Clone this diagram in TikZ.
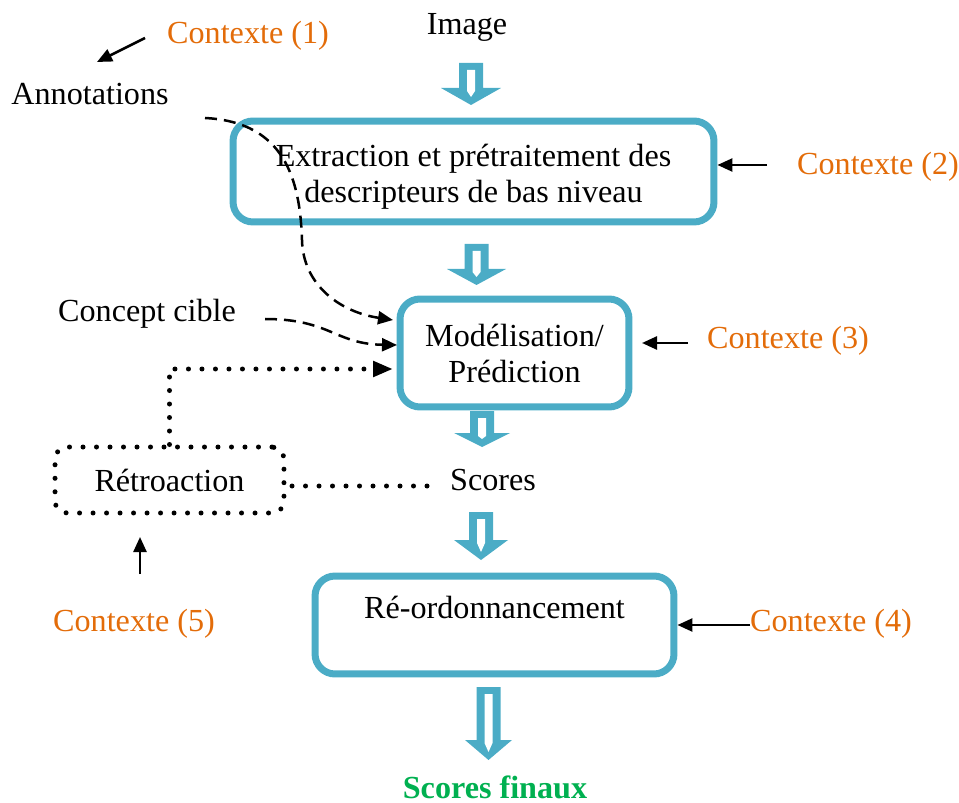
\documentclass[tikz,border=0pt]{standalone}
\usepackage{fontspec}
\setmainfont{Liberation Serif}
\usetikzlibrary{arrows.meta,positioning}
\definecolor{boxblue}{HTML}{4BACC6}
\definecolor{ctxorange}{HTML}{E36C09}
\definecolor{finalgreen}{HTML}{00B050}

% hollow block arrow pointing down: x, top, head start, tip, half head width
\newcommand{\blockdown}[5]{%
  \fill[boxblue] (#1-12,#2) -- (#1+12,#2) -- (#1+12,#3) -- (#1+#5,#3) -- (#1,#4)
    -- (#1-#5,#3) -- (#1-12,#3) -- cycle;
  \fill[white] (#1-4,#2+7) -- (#1+4,#2+7) -- (#1+4,#3+3) -- (#1,#4-8)
    -- (#1-4,#3+3) -- cycle;}

\begin{document}
\begin{tikzpicture}[
  x=0.02cm, y=-0.02cm,
  font=\fontsize{18.3}{20.5}\selectfont,
  stage/.style={draw=boxblue, line width=0.14cm, rounded corners=0.4cm, align=center, inner sep=0pt},
  lbl/.style={inner sep=0pt, anchor=base},
  ctx/.style={lbl, text=ctxorange},
  ctxarr/.style={line width=0.05cm, -{Triangle[length=0.3cm,width=0.26cm]}},
  dashline/.style={line width=0.05cm, dash pattern=on 0.24cm off 0.14cm, -{Triangle[length=0.3cm,width=0.26cm]}},
  dotline/.style={line width=0.1cm, line cap=round, dash pattern=on 0pt off 0.27cm}
]
\useasboundingbox (0,0) rectangle (959,803);

% main chain
\node[stage, minimum width=9.62cm, minimum height=2.02cm] (extract) at (473.5,171.5) {};
\node[align=center, inner sep=0pt] (extracttext) at ([yshift=-0.1cm]extract.center) {Extraction et prétraitement des\\descripteurs de bas niveau};
\node[stage, minimum width=4.58cm, minimum height=2.16cm] (model) at (514.5,353) {Modélisation/\\Prédiction};
\node[stage, minimum width=7.18cm, minimum height=1.96cm] (rerank) at (494.5,625) {Ré-ordonnancement\\\mbox{}};
\node[draw, dotline, rounded corners=0.24cm, minimum width=4.58cm, minimum height=1.32cm] (retro) at (169.5,480) {Rétroaction};

\node[lbl] (image) at (467,35) {Image};
\node[lbl] (annot) at (90,105) {Annotations};
\node[lbl] (concept) at (147,322) {Concept cible};
\node[lbl] (scores) at (493,490) {Scores};
\node[lbl, text=finalgreen, font=\fontsize{18.3}{20.5}\selectfont\bfseries] (final) at (495,798) {Scores finaux};

% contexts
\node[ctx] (ctx1) at (248,44) {Contexte (1)};
\node[ctx] (ctx2) at (878,175) {Contexte (2)};
\node[ctx] (ctx3) at (788,349) {Contexte (3)};
\node[ctx] (ctx4) at (831,631) {Contexte (4)};
\node[ctx] (ctx5) at (134,631) {Contexte (5)};

\coordinate (ctx1tail) at (145,38);
\coordinate (annottip) at (97,62);
\coordinate (ctx2tail) at (767,165);
\coordinate (ctx3tail) at (688,343);
\coordinate (ctx3tip) at (642,343);
\coordinate (ctx4tail) at (750,625);
\coordinate (ctx5tail) at (140,574);
\coordinate (ctx5tip) at (140,537);

\draw[ctxarr] (ctx1tail) -- (annottip);
\draw[ctxarr] (ctx2tail) -- (extract.east |- ctx2tail);
\draw[ctxarr] (ctx3tail) -- (ctx3tip);
\draw[ctxarr] (ctx4tail) -- (rerank.east |- ctx4tail);
\draw[ctxarr] (ctx5tail) -- (ctx5tip);

% block arrows
\blockdown{471}{63}{88}{105}{30}
\blockdown{476.5}{244}{269}{285}{29.5}
\blockdown{482}{411}{433}{447}{28}
\blockdown{481}{512}{540}{560}{27}
\blockdown{488.5}{687}{740}{760}{23.5}

% dashed inputs
\coordinate (annotstart) at (205,118);
\coordinate (annotend) at (393,320);
\coordinate (conceptstart) at (265,319);
\coordinate (conceptend) at (397,345);
\draw[dashline] (annotstart) .. controls (285,122) and (300,180) .. (302,240)
  .. controls (303,285) and (340,312) .. (annotend);
\draw[dashline] (conceptstart) .. controls (330,319) and (335,344) .. (conceptend);

% feedback loop
\coordinate (feedin) at (393,369);
\coordinate (scoresleft) at (427,486);
\draw[dotline, -{Triangle[length=0.4cm,width=0.3cm]}] (retro.north) |- (feedin);
\draw[dotline] (scoresleft) -- (retro.east |- scoresleft);

\end{tikzpicture}
\end{document}
